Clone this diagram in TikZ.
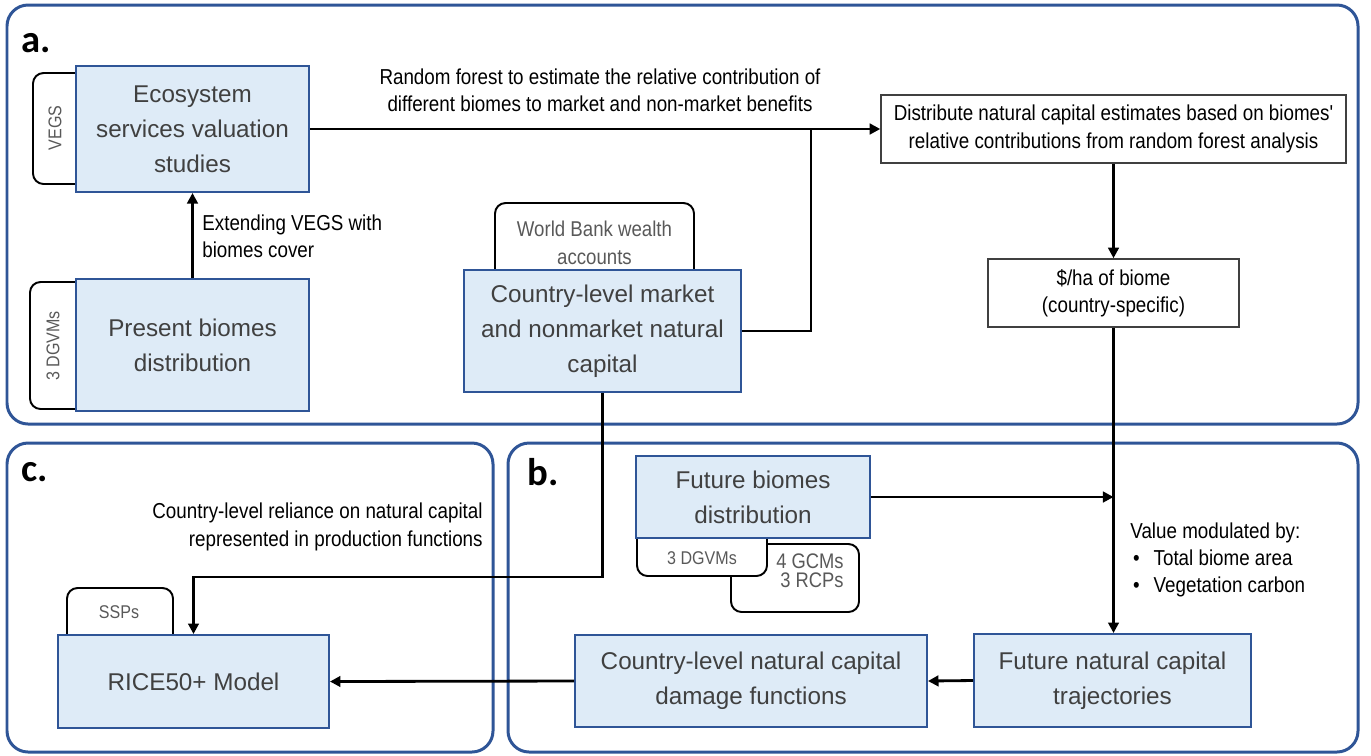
\documentclass[tikz,border=0pt]{standalone}
\usepackage{fontspec}
\setmainfont{Liberation Sans}
\newfontfamily\narrowfont{Liberation Sans}[FakeStretch=0.87]
\newfontfamily\labelfont{Carlito}
\usepackage{tikz}
\usetikzlibrary{arrows.meta,positioning}
\definecolor{panelblue}{HTML}{2F5597}
\definecolor{boxfill}{HTML}{DEEBF7}
\definecolor{boxtext}{HTML}{404040}
\definecolor{tabgray}{HTML}{595959}
\tikzset{
  panel/.style={draw=panelblue, line width=1.7pt, rounded corners=12pt},
  panellabel/.style={font=\labelfont\fontsize{22}{24}\selectfont\bfseries,
    inner sep=0pt},
  stagebox/.style={
    draw=panelblue, fill=boxfill, line width=1.1pt,
    align=center, text=boxtext, inner sep=2pt,
    font=\fontsize{13.8}{20}\selectfont
  },
  notebox/.style={
    draw=boxtext, fill=white, line width=0.9pt,
    align=center, inner sep=2pt,
    font=\narrowfont\fontsize{12.3}{15.6}\selectfont
  },
  tabline/.style={draw=black, line width=1.1pt, rounded corners=6pt},
  tabtext/.style={text=tabgray, inner sep=0pt,
    font=\narrowfont\fontsize{10.5}{15.9}\selectfont},
  annot/.style={inner sep=0pt, font=\narrowfont\fontsize{12.3}{15.6}\selectfont},
  conn/.style={line width=1.6pt},
  arr/.style={-{Triangle[length=6pt,width=6pt]}, line width=1.6pt}
}
\begin{document}
\begin{tikzpicture}[x=0.02cm, y=-0.02cm]
  \useasboundingbox (0,0) rectangle (1371,755);

  % panels
  \draw[panel] (7,5) rectangle (1358,424);
  \draw[panel] (7,443) rectangle (493,752);
  \draw[panel] (508,443) rectangle (1358,752);
  \node[panellabel, anchor=west] (lbla) at (21,43) {a.};
  \node[panellabel, anchor=west] (lblc) at (21,472) {c.};
  \node[panellabel, anchor=west] (lblb) at (527,472) {b.};

  % tabs
  \draw[tabline] (80,73) -- (33,73) -- (33,184) -- (80,184);
  \node[tabtext, rotate=90] (vegs) at (55,128) {VEGS};
  \draw[tabline] (80,282) -- (30,282) -- (30,409) -- (80,409);
  \node[tabtext, rotate=90] (dgvmsa) at (53,346) {3 DGVMs};
  \draw[tabline] (495,274) -- (495,203) -- (694,203) -- (694,274);
  \node[tabtext, align=center, font=\narrowfont\fontsize{12.2}{16}\selectfont]
    (wbank) at (594.5,243) {World Bank wealth\\accounts};
  \draw[tabline] (67,639) -- (67,588) -- (173,588) -- (173,639);
  \node[tabtext] (ssps) at (119,612) {SSPs};
  \draw[tabline, fill=white] (731,544) rectangle (859,612);
  \node[tabtext, align=right, anchor=east,
    font=\narrowfont\fontsize{12}{11}\selectfont] (gcms) at (844,571) {4 GCMs\\3 RCPs};
  \draw[tabline, fill=white] (637,520) rectangle (767,576);
  \node[tabtext] (dgvmsb) at (702,558) {3 DGVMs};

  % boxes
  \node[stagebox, minimum width=4.66cm, minimum height=2.52cm] (eco)
    at (192.5,129) {Ecosystem\\services valuation\\studies};
  \node[stagebox, minimum width=4.66cm, minimum height=2.64cm] (present)
    at (192.5,345) {Present biomes\\distribution};
  \node[stagebox, minimum width=5.54cm, minimum height=2.44cm] (market)
    at (602.5,331) {Country-level market\\and nonmarket natural\\capital};
  \node[notebox, minimum width=9.3cm, minimum height=1.36cm] (distrib)
    at (1113.5,129) {Distribute natural capital estimates based on biomes'\\
    relative contributions from random forest analysis};
  \node[notebox, minimum width=5.02cm, minimum height=1.36cm] (perha)
    at (1113.5,293) {\$/ha of biome\\(country-specific)};
  \node[stagebox, minimum width=4.68cm, minimum height=1.64cm] (futbio)
    at (753,497) {Future biomes\\distribution};
  \node[stagebox, minimum width=5.54cm, minimum height=1.86cm] (futnat)
    at (1112.5,680.5) {Future natural capital\\trajectories};
  \node[stagebox, minimum width=7.04cm, minimum height=1.84cm] (damage)
    at (751,681) {Country-level natural capital\\damage functions};
  \node[stagebox, minimum width=5.42cm, minimum height=1.86cm] (rice)
    at (193.5,681.5) {RICE50+ Model};

  % annotations
  \node[annot, align=center] (rflbl) at (600,90.5)
    {Random forest to estimate the relative contribution of\\
     different biomes to market and non-market benefits};
  \node[annot, align=left, anchor=west] (extlbl) at (202,236)
    {Extending VEGS with\\biomes cover};
  \node[annot, align=right, anchor=east] (rellbl) at (483,527)
    {Country-level reliance on natural capital\\represented in production functions};
  \node[annot, align=left, anchor=north west] (modlbl) at (1130,522)
    {Value modulated by:\\
     \hspace*{1.5pt}\textbullet\hspace{8pt}Total biome area\\
     \hspace*{1.5pt}\textbullet\hspace{8pt}Vegetation carbon};

  % connectors
  \coordinate (mkjoin) at (811,129);
  \coordinate (biojoin) at (1113.5,497);
  \coordinate (relbend) at (602.5,577);
  \draw[arr] (present.north) -- (eco.south);
  \draw[arr] (eco.east) -- (distrib.west);
  \draw[conn] (market.east) -| (mkjoin);
  \draw[arr] (distrib.south) -- (perha.north);
  \draw[arr] (perha.south) -- (perha.south |- futnat.north);
  \draw[arr] (futbio.east) -- (biojoin);
  \draw[arr] (futnat.west) -- (damage.east);
  \draw[arr] (damage.west) -- (rice.east);
  \draw[arr] (market.south) -- (relbend) -| (rice.north);
\end{tikzpicture}
\end{document}
